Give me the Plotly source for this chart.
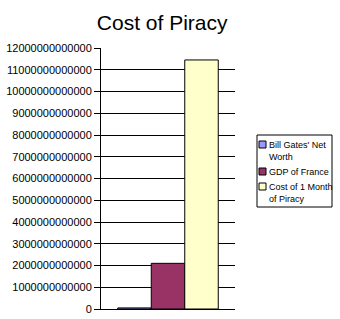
import plotly.graph_objects as go

series_names = ["Bill Gates' Net<br>Worth", "GDP of France", "Cost of 1 Month<br>of Piracy"]
series_values = [50e9, 2.1e12, 11.45e12]
series_colors = ["#9999FF", "#993366", "#FFFFCC"]
category = [""]
tick_vals = [i * 1e12 for i in range(13)]
tick_text = [str(int(v)) for v in tick_vals]

L, R, T, B = 101, 235, 48, 309
W, H = 340, 319


def px(x):
    return (x - L) / (R - L)


def py(y):
    return (B - y) / (B - T)


fig = go.Figure()
for name, val, col in zip(series_names, series_values, series_colors):
    fig.add_trace(go.Bar(x=category, y=[val], name=name, showlegend=False,
                         marker=dict(color=col, line=dict(color="black", width=1))))

# manual legend (box, swatches, labels)
shapes = [dict(type="rect", xref="paper", yref="paper",
               x0=px(257), x1=px(332), y0=py(135), y1=py(207),
               line=dict(color="black", width=1), fillcolor="white", layer="above")]
annotations = []
sw_top = [141, 168, 183]
txt_top = [138, 165, 180]
for name, col, st, tt in zip(series_names, series_colors, sw_top, txt_top):
    shapes.append(dict(type="rect", xref="paper", yref="paper",
                       x0=px(259), x1=px(266), y0=py(st), y1=py(st + 7),
                       line=dict(color="black", width=1), fillcolor=col, layer="above"))
    annotations.append(dict(text=name, xref="paper", yref="paper",
                            x=px(267), y=py(tt), xanchor="left", yanchor="top",
                            align="left", showarrow=False,
                            font=dict(size=9, color="black")))

fig.update_layout(
    width=W, height=H,
    margin=dict(l=L, r=W - R, t=T, b=H - B, autoexpand=False),
    paper_bgcolor="white", plot_bgcolor="white",
    barmode="group", bargap=0.25, bargroupgap=0,
    font=dict(family="Arial, Liberation Sans, sans-serif", color="black"),
    title=dict(text="Cost of Piracy", x=0.477, xanchor="center", y=0.93, yanchor="middle",
               font=dict(size=21, color="black")),
    showlegend=False,
    shapes=shapes,
    annotations=annotations,
)
fig.update_yaxes(range=[0, 12e12], tickvals=tick_vals, ticktext=tick_text,
                 showgrid=True, gridcolor="black", gridwidth=1,
                 showline=True, linecolor="black", linewidth=1,
                 ticks="outside", ticklen=6, tickcolor="black",
                 tickfont=dict(size=11), zeroline=False, automargin=False)
fig.update_xaxes(showticklabels=False, showline=True, linecolor="black", linewidth=1,
                 showgrid=False, automargin=False)

fig.write_html("out.html")
